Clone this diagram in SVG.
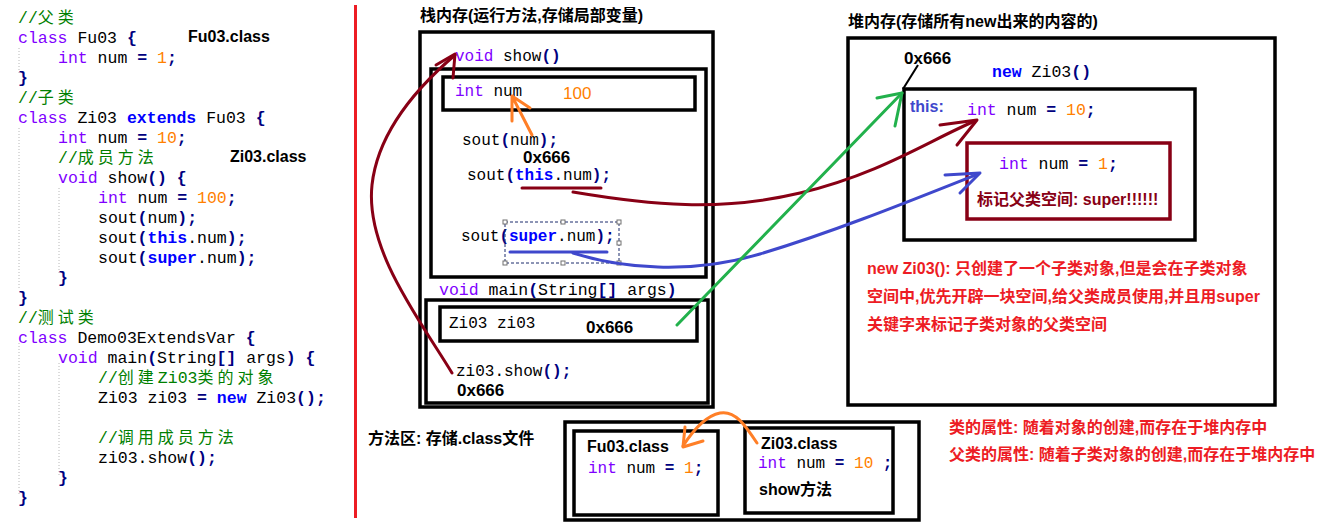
<svg xmlns="http://www.w3.org/2000/svg" width="1323" height="523" viewBox="0 0 1323 523" xml:space="preserve">
<style>
.m{font-family:"Liberation Mono","Noto Sans CJK SC",monospace;font-size:16.5px;fill:#000;white-space:pre}
.ms{font-size:16px}
.kw{fill:#8000ff}
.kb{fill:#0000ff;font-weight:bold}
.op{fill:#000080;font-weight:bold}
.nm{fill:#ff8000}
.cm{fill:#008000}
.cj{font-family:"Noto Sans CJK SC",sans-serif;font-size:16px;letter-spacing:4px}
.b{font-family:"Liberation Sans","Noto Sans CJK SC",sans-serif;font-weight:bold;font-size:16px;fill:#000;white-space:pre}
.hx{font-size:17px}
.red{fill:#ed1c24}
.box{fill:none;stroke:#000;stroke-width:3.5}
.guide{stroke:#b8b8b8;stroke-width:1;stroke-dasharray:1 2;fill:none}
.c{fill:none;stroke-width:3;stroke-linecap:round;stroke-linejoin:round}
.dr{stroke:#880015}
.bl{stroke:#3f48cc}
.gr{stroke:#22b14c}
.or{stroke:#ff7f27}
.hd{fill:#fff;stroke:#707070;stroke-width:1}
</style>

<!-- left code panel -->
<g id="code-panel">
  <path class="guide" d="M19,48V75 M19,128V290 M19,343V495 M59,188V275 M59,363V475"/>
  <text class="m" x="18" y="23"><tspan class="cm">//<tspan class="cj">父类</tspan></tspan></text>
  <text class="m" x="18" y="43"><tspan class="kw">class</tspan> Fu03 <tspan class="op">{</tspan></text>
  <text class="m" x="58" y="63"><tspan class="kw">int</tspan> num <tspan class="op">=</tspan> <tspan class="nm">1</tspan><tspan class="op">;</tspan></text>
  <text class="m" x="18" y="83"><tspan class="op">}</tspan></text>
  <text class="m" x="18" y="103"><tspan class="cm">//<tspan class="cj">子类</tspan></tspan></text>
  <text class="m" x="18" y="123"><tspan class="kw">class</tspan> Zi03 <tspan class="kb">extends</tspan> Fu03 <tspan class="op">{</tspan></text>
  <text class="m" x="58" y="143"><tspan class="kw">int</tspan> num <tspan class="op">=</tspan> <tspan class="nm">10</tspan><tspan class="op">;</tspan></text>
  <text class="m" x="58" y="163"><tspan class="cm">//<tspan class="cj">成员方法</tspan></tspan></text>
  <text class="m" x="58" y="183"><tspan class="kw">void</tspan> show<tspan class="op">()</tspan> <tspan class="op">{</tspan></text>
  <text class="m" x="98" y="203"><tspan class="kw">int</tspan> num <tspan class="op">=</tspan> <tspan class="nm">100</tspan><tspan class="op">;</tspan></text>
  <text class="m" x="98" y="223">sout<tspan class="op">(</tspan>num<tspan class="op">);</tspan></text>
  <text class="m" x="98" y="243">sout<tspan class="op">(</tspan><tspan class="kb">this</tspan>.num<tspan class="op">);</tspan></text>
  <text class="m" x="98" y="263">sout<tspan class="op">(</tspan><tspan class="kb">super</tspan>.num<tspan class="op">);</tspan></text>
  <text class="m" x="58" y="283"><tspan class="op">}</tspan></text>
  <text class="m" x="18" y="303"><tspan class="op">}</tspan></text>
  <text class="m" x="18" y="323"><tspan class="cm">//<tspan class="cj">测试类</tspan></tspan></text>
  <text class="m" x="18" y="343"><tspan class="kw">class</tspan> Demo03ExtendsVar <tspan class="op">{</tspan></text>
  <text class="m" x="58" y="363"><tspan class="kw">void</tspan> main<tspan class="op">(</tspan>String<tspan class="op">[]</tspan> args<tspan class="op">)</tspan> <tspan class="op">{</tspan></text>
  <text class="m" x="98" y="383"><tspan class="cm">//<tspan class="cj">创建</tspan>Zi03<tspan class="cj">类的对象</tspan></tspan></text>
  <text class="m" x="98" y="403">Zi03 zi03 <tspan class="op">=</tspan> <tspan class="kb">new</tspan> Zi03<tspan class="op">();</tspan></text>
  <text class="m" x="98" y="443"><tspan class="cm">//<tspan class="cj">调用成员方法</tspan></tspan></text>
  <text class="m" x="98" y="463">zi03.show<tspan class="op">();</tspan></text>
  <text class="m" x="58" y="483"><tspan class="op">}</tspan></text>
  <text class="m" x="18" y="503"><tspan class="op">}</tspan></text>
  <text class="b" x="188" y="42">Fu03.class</text>
  <text class="b" x="230" y="162">Zi03.class</text>
</g>

<line id="divider" x1="355.5" y1="5" x2="355.5" y2="518" stroke="#ed1c24" stroke-width="3"/>

<!-- stack memory -->
<g id="stack">
  <text class="b" x="420" y="21">栈内存(运行方法,存储局部变量)</text>
  <rect class="box" x="420" y="32" width="293" height="375"/>
  <text class="m ms" x="455" y="61"><tspan class="kw">void</tspan> show<tspan class="op">()</tspan></text>
</g>
<g id="show-frame">
  <rect class="box" x="431" y="69" width="275" height="208"/>
  <text class="m ms" x="462" y="145">sout<tspan class="op">(</tspan>num<tspan class="op">);</tspan></text>
  <text class="b hx" x="523" y="163">0x666</text>
  <text class="m ms" x="467" y="180">sout<tspan class="op">(</tspan><tspan class="kb">this</tspan>.num<tspan class="op">);</tspan></text>
  <text class="m ms" x="461" y="241">sout<tspan class="op">(</tspan><tspan class="kb">super</tspan>.num<tspan class="op">);</tspan></text>
  <g id="selection">
    <rect x="505" y="222" width="114" height="41" fill="none" stroke="#1a2a6c" stroke-width="1" stroke-dasharray="3 2"/>
    <rect class="hd" x="503" y="220" width="4" height="4"/>
    <rect class="hd" x="561" y="220" width="4" height="4"/>
    <rect class="hd" x="617" y="220" width="4" height="4"/>
    <rect class="hd" x="617" y="241" width="4" height="4"/>
    <rect class="hd" x="503" y="261" width="4" height="4"/>
    <rect class="hd" x="561" y="261" width="4" height="4"/>
    <rect class="hd" x="617" y="261" width="4" height="4"/>
  </g>
</g>
<g id="num-var">
  <rect class="box" x="443" y="77" width="252" height="33"/>
  <text class="m ms" x="455" y="96"><tspan class="kw">int</tspan> num</text>
  <text x="563" y="99" font-family="Liberation Sans,sans-serif" font-size="17" fill="#ff8000">100</text>
</g>
<g id="main-frame">
  <text class="m" x="439" y="295"><tspan class="kw">void</tspan> main<tspan class="op">(</tspan>String<tspan class="op">[]</tspan> args<tspan class="op">)</tspan></text>
  <rect class="box" x="426" y="300" width="282" height="103"/>
  <text class="m ms" x="456" y="376">zi03.show<tspan class="op">();</tspan></text>
  <text class="b hx" x="457" y="396">0x666</text>
</g>
<g id="zi03-var">
  <rect class="box" x="440" y="307" width="257" height="34"/>
  <text class="m ms" x="449" y="328">Zi03 zi03</text>
  <text class="b hx" x="586" y="333">0x666</text>
</g>

<!-- heap memory -->
<g id="heap">
  <text class="b" x="848" y="27">堆内存(存储所有new出来的内容的)</text>
  <rect class="box" x="848" y="38" width="427" height="367"/>
  <text class="b hx" x="904" y="64">0x666</text>
  <text class="m" x="992" y="77"><tspan class="kb">new</tspan> Zi03<tspan class="op">()</tspan></text>
  <text class="b red" x="867" y="274">new Zi03(): 只创建了一个子类对象,但是会在子类对象</text>
  <text class="b red" x="867" y="302">空间中,优先开辟一块空间,给父类成员使用,并且用super</text>
  <text class="b red" x="867" y="330">关键字来标记子类对象的父类空间</text>
</g>
<g id="zi03-object">
  <rect class="box" x="904" y="89" width="291" height="151"/>
  <text class="b" x="910" y="112" fill="#3f48cc" style="fill:#3f48cc">this:</text>
  <text class="m" x="967" y="115"><tspan class="kw">int</tspan> num <tspan class="op">=</tspan> <tspan class="nm">10</tspan><tspan class="op">;</tspan></text>
</g>
<g id="super-space">
  <rect x="967" y="143" width="203" height="76" fill="none" stroke="#880015" stroke-width="3.5"/>
  <text class="m" x="999" y="169"><tspan class="kw">int</tspan> num <tspan class="op">=</tspan> <tspan class="nm">1</tspan><tspan class="op">;</tspan></text>
  <text class="b" x="977" y="205" style="fill:#880015">标记父类空间: super!!!!!!</text>
</g>

<g id="notes">
  <text class="b red" x="949" y="433">类的属性: 随着对象的创建,而存在于堆内存中</text>
  <text class="b red" x="949" y="460">父类的属性: 随着子类对象的创建,而存在于堆内存中</text>
</g>

<!-- method area -->
<g id="method-area">
  <text class="b" x="368" y="444">方法区: 存储.class文件</text>
  <rect class="box" x="565" y="422" width="354" height="98"/>
</g>
<g id="fu03-class">
  <rect class="box" x="574" y="431" width="144" height="84"/>
  <text class="b" x="587" y="452">Fu03.class</text>
  <text class="m ms" x="588" y="473"><tspan class="kw">int</tspan> num <tspan class="op">=</tspan> <tspan class="nm">1</tspan><tspan class="op">;</tspan></text>
</g>
<g id="zi03-class">
  <rect class="box" x="745" y="428" width="148" height="85"/>
  <text class="b" x="761" y="449">Zi03.class</text>
  <text class="m ms" x="758" y="468"><tspan class="kw">int</tspan> num <tspan class="op">=</tspan> <tspan class="nm">10</tspan> <tspan class="op">;</tspan></text>
  <text class="b" x="759" y="495">show方法</text>
</g>

<!-- connectors -->
<g id="connectors">
  <path class="c dr" d="M522,188H601"/>
  <path class="c dr" d="M573,192C650,205 720,212 800,193S930,140 975,121"/>
  <path class="c dr" d="M940,125L977,120L957,145"/>
  <path class="c bl" d="M510,252H607"/>
  <path class="c bl" d="M573,253C620,268 690,275 760,254S900,205 978,174"/>
  <path class="c bl" d="M945,175L980,173L960,193"/>
  <path class="c gr" d="M677,325L902,93"/>
  <path class="c gr" d="M877,98L902,93L895,126"/>
  <path fill="none" stroke="#000" stroke-width="2" d="M918,65L903,89"/>
  <path class="c dr" d="M452,373C420,320 365,250 372,185C378,130 420,85 455,55"/>
  <path class="c dr" d="M436,65L455,54L453,78"/>
  <path class="c or" d="M532,135L512,96M512,96V121M512,96L530,108"/>
  <path class="c or" d="M757,443C745,425 735,410 720,413C705,416 692,432 683,446"/>
  <path class="c or" d="M685,427L683,447L703,441"/>
</g>
</svg>
